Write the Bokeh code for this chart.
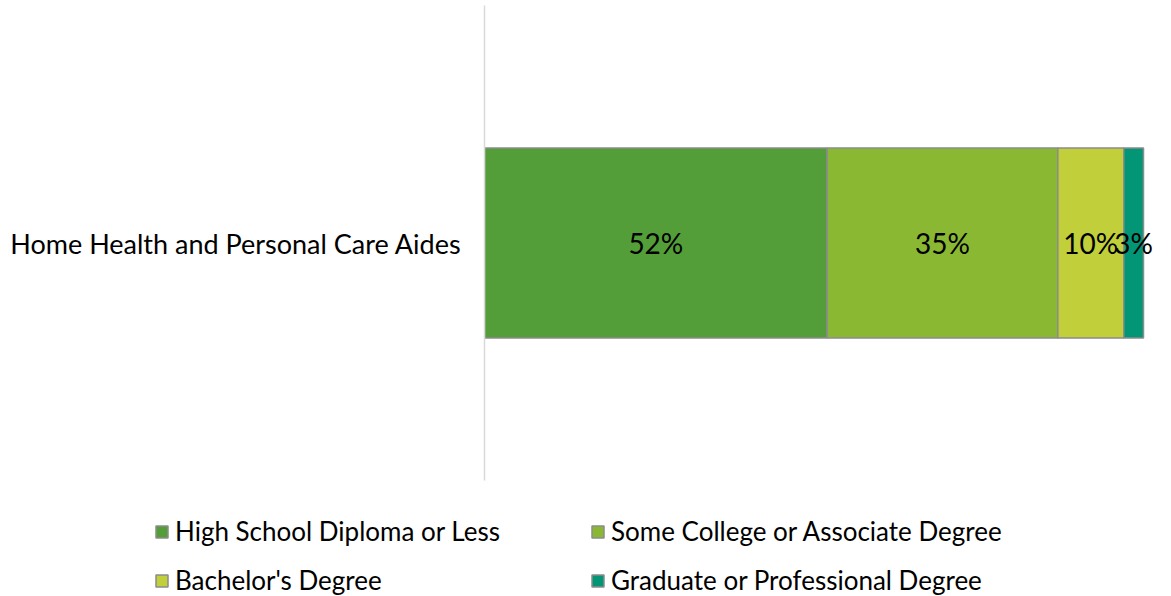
from bokeh.plotting import figure
from bokeh.models import ColumnDataSource, Range1d, LabelSet, Legend, LegendItem
from bokeh.core.properties import value
from bokeh.embed import file_html
from bokeh.resources import INLINE

categories = ["Home Health and Personal Care Aides"]
series = ["High School Diploma or Less", "Some College or Associate Degree",
          "Bachelor's Degree", "Graduate or Professional Degree"]
values = [52, 35, 10, 3]
colors = ["#549E39", "#8AB833", "#C0CF3A", "#029676"]
keys = ["hs", "sc", "ba", "gr"]

FONT = "Lato"
OUTLINE = "#8C8C8C"

data = {"cat": categories}
for k, v in zip(keys, values):
    data[k] = [v]
src = ColumnDataSource(data)

W = 1171
LEFT = 484          # frame left edge (px)
BAR_END = 1143      # where 100% falls (px)
x_max = 100 * (W - LEFT) / (BAR_END - LEFT)   # frame extends to canvas edge

p = figure(width=W, height=490, y_range=categories, x_range=Range1d(0, x_max),
           output_backend="svg", toolbar_location=None, x_axis_location=None,
           min_border_left=LEFT, min_border_right=0, min_border_top=5,
           min_border_bottom=10)

rs = p.hbar_stack(keys, y="cat", height=0.4, source=src, color=colors,
                  line_color=OUTLINE, line_width=1.5)

# label positions from cumulative values
starts = [sum(values[:i]) for i in range(len(values))]
lab_src = ColumnDataSource(dict(
    x=[s + v / 2 for s, v in zip(starts, values)],
    y=categories * len(values),
    t=[f"{v}%" for v in values]))
labels = LabelSet(x="x", y="y", text="t", source=lab_src, text_align="center",
                  text_baseline="middle", text_font=value(FONT),
                  text_font_size="28px", text_color="#000000")
p.add_layout(labels)

p.yaxis.axis_line_color = "#D9D9D9"
p.yaxis.axis_line_width = 1.5
p.yaxis.major_tick_line_color = None
p.yaxis.minor_tick_line_color = None
p.yaxis.major_label_text_font = FONT
p.yaxis.major_label_text_font_size = "27px"
p.yaxis.major_label_text_color = "#000000"
p.yaxis.major_label_standoff = 17
p.xgrid.visible = False
p.ygrid.visible = False
p.outline_line_color = None

# legend panel (separate root so its frame is not aligned with the chart)
q = figure(width=W, height=106, y_range=categories, x_range=Range1d(0, 100),
           output_backend="svg", toolbar_location=None, x_axis_location=None,
           y_axis_location=None, min_border=0)
q.xgrid.visible = False
q.ygrid.visible = False
q.outline_line_color = None
q.border_fill_color = None
q.background_fill_color = None
# same stack, hidden: it only supplies the legend swatches
lr = q.hbar_stack(keys, y="cat", height=0.4, source=src, color=colors,
                  line_color=OUTLINE, line_width=1.5)
for r in lr:
    r.visible = False

def make_legend(idx, x):
    items = [LegendItem(label=series[i], renderers=[lr[i]]) for i in idx]
    return Legend(items=items, location=(x, 0), orientation="vertical",
                  label_text_font=FONT, label_text_font_size="26px",
                  label_text_color="#000000", glyph_width=15, glyph_height=15,
                  label_standoff=6, label_height=31, spacing=17, padding=0,
                  margin=0, border_line_color=None, background_fill_alpha=0,
                  inactive_fill_alpha=0)

q.add_layout(make_legend([0, 2], 154))
q.add_layout(make_legend([1, 3], 590))

open("out.html", "w").write(file_html([p, q], INLINE))
